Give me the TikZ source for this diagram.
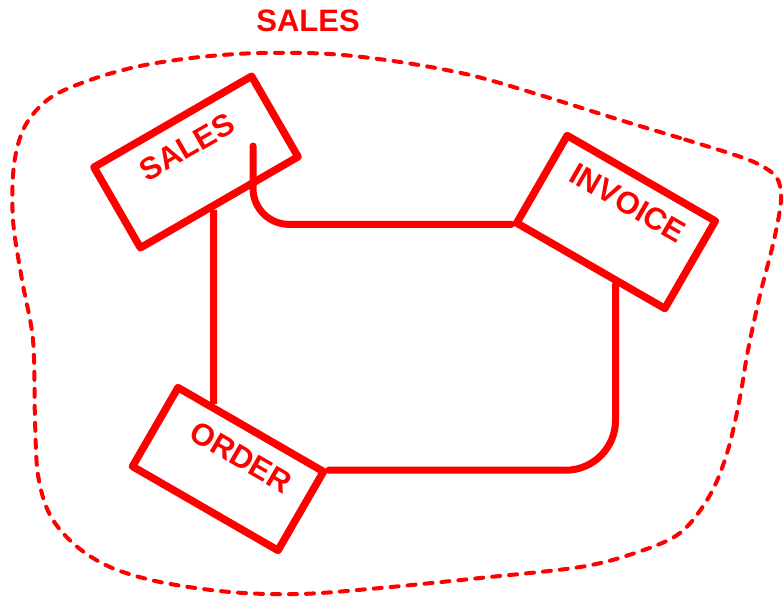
\documentclass[tikz,border=0pt]{standalone}
\usepackage{fontspec}
\setmainfont{Liberation Sans}
\begin{document}
\begin{tikzpicture}[x=1pt,y=-1pt,
  ent/.style={draw=red, line width=7.5pt, line join=round, rectangle, inner sep=0pt},
  lbl/.style={text=red, font=\bfseries\fontsize{31}{37}\selectfont, inner sep=0pt},
  conn/.style={draw=red, line width=7pt, line cap=round, line join=round},
  bound/.style={draw=red, line width=4pt, line cap=round, dash pattern=on 8pt off 9pt}]
\useasboundingbox (0,0) rectangle (783,598);
% title
\node[lbl] (title) at (308,21) {SALES};
% entity boxes
\node[ent, rotate=30, minimum width=182pt, minimum height=93pt] (salesbox) at (196,162) {};
\node[lbl, rotate=30] (salestxt) at (187,147) {SALES};
\node[ent, rotate=-30, minimum width=171pt, minimum height=101pt] (invoicebox) at (616,222) {};
\node[lbl, rotate=-30] (invoicetxt) at (628,203) {INVOICE};
\node[ent, rotate=-30, minimum width=168pt, minimum height=91pt] (orderbox) at (228,469) {};
\node[lbl, rotate=-30] (ordertxt) at (241,457) {ORDER};
% connector end points
\coordinate (a0) at (intersection of salesbox.south west--salesbox.south east and 213.5,0--213.5,600);
\coordinate (a1) at (intersection of orderbox.north west--orderbox.north east and 213.5,0--213.5,600);
\coordinate (b0) at (253,146);
\coordinate (c0) at (intersection of invoicebox.south west--invoicebox.south east and 615.5,0--615.5,600);
% connectors
\draw[conn, line cap=butt] (a0) -- (a1);
\draw[conn, rounded corners=36pt] (b0) |- (invoicebox.south west);
\draw[conn, rounded corners=50pt] (c0) |- (orderbox.north east);
% dashed boundary
\draw[bound] plot[smooth cycle, tension=0.55] coordinates {
  (735,155) (680,138) (620,120) (540,95) (470,75) (400,62) (330,54) (260,53)
  (200,57) (140,66) (90,80) (50,98) (25,126) (14,165) (13,220) (22,280)
  (33,340) (35,420) (38,475) (50,515) (75,545) (110,567) (160,582) (230,592)
  (300,594) (380,588) (480,578) (580,567) (635,553) (680,533) (710,495)
  (728,450) (740,397) (748,350) (760,295) (774,240) (781,200) (777,178) (760,165)};
\end{tikzpicture}
\end{document}
